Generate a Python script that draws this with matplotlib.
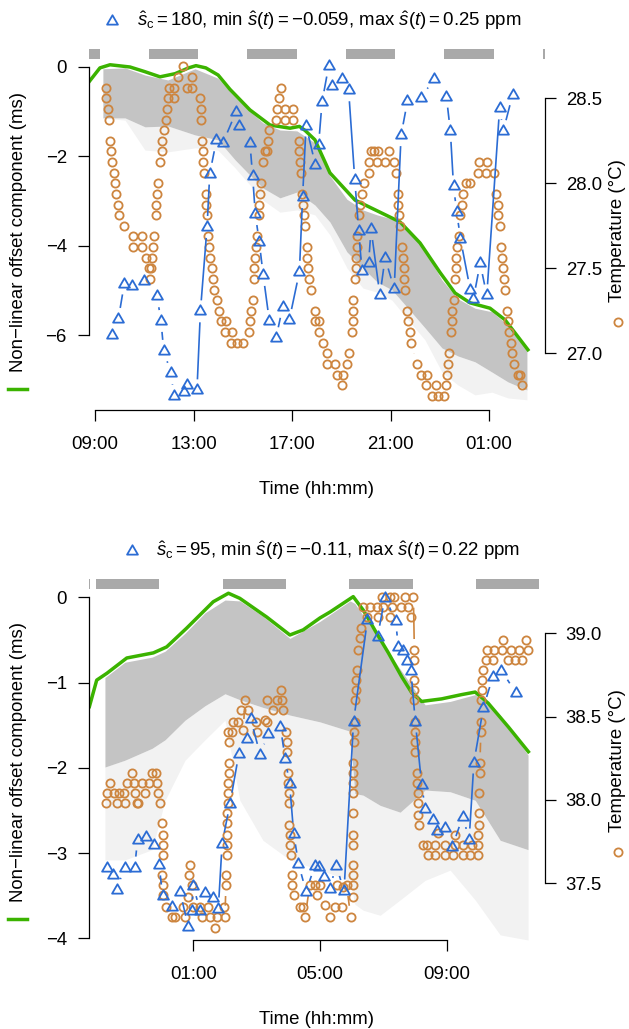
import numpy as np
import matplotlib
matplotlib.use("Agg")
import matplotlib.pyplot as plt
from matplotlib.path import Path
from matplotlib.collections import LineCollection
from matplotlib.lines import Line2D
from matplotlib.ticker import FormatStrFormatter

plt.rcParams["font.family"] = ["Liberation Sans", "DejaVu Sans"]
plt.rcParams["mathtext.fontset"] = "custom"
plt.rcParams["mathtext.rm"] = "Liberation Sans"
plt.rcParams["mathtext.it"] = "Liberation Sans:italic"
plt.rcParams["mathtext.bf"] = "Liberation Sans:bold"

# -------------------------------
# DATA - top panel (time in hours since midnight of day 1)
# -------------------------------
top_xticks = [9, 13, 17, 21, 25]
top_xticklabels = ["09:00", "13:00", "17:00", "21:00", "01:00"]
top_msticks = [0, -2, -4, -6]
top_tempticks = [27.0, 27.5, 28.0, 28.5]
top_bars = [(7.19, 9.19), (11.19, 13.19), (15.19, 17.19), (19.19, 21.19),
            (23.19, 25.19), (27.19, 29.19)]

top_green_t = [8.76, 9.20, 9.61, 10.42, 11.00, 11.64, 12.25, 12.80, 13.10, 13.50,
               14.00, 14.48, 15.29, 16.11, 16.92, 17.30, 17.53, 17.93, 18.54, 19.56,
               20.57, 21.39, 22.20, 23.01, 23.62, 24.23, 25.04, 25.65, 26.58]
top_green = [-0.33, -0.02, 0.05, 0.0, -0.10, -0.22, -0.15, -0.02, 0.03, -0.02,
             -0.18, -0.50, -0.96, -1.30, -1.37, -1.33, -1.42, -1.63, -2.37, -2.98,
             -3.25, -3.47, -3.94, -4.60, -5.06, -5.28, -5.40, -5.66, -6.33]

top_band_t = [9.32, 10.22, 11.03, 11.96, 13.06, 13.99, 14.69, 15.29, 15.82, 16.51,
              17.20, 17.93, 18.54, 19.23, 19.88, 20.45, 21.06, 21.71, 22.40, 23.09,
              23.74, 24.43, 25.12, 25.77, 26.54]
top_band_upper = [-0.04, -0.02, -0.18, -0.29, -0.04, -0.25, -0.67, -0.99, -1.25, -1.41,
                  -1.43, -1.70, -2.44, -2.96, -3.20, -3.31, -3.40, -3.63, -4.12, -4.77,
                  -5.19, -5.40, -5.48, -5.78, -6.34]
top_band_lower = [-1.14, -1.14, -1.34, -1.32, -1.52, -1.63, -2.08, -2.42, -2.71, -2.93,
                  -2.80, -3.09, -3.47, -4.14, -4.50, -4.81, -4.99, -5.40, -5.84, -6.29,
                  -6.47, -6.60, -6.83, -7.05, -7.23]
top_band_sparse = [-1.14, -1.19, -1.86, -1.90, -1.81, -1.86, -2.26, -2.64, -2.98, -3.25,
                   -3.20, -3.31, -3.76, -4.50, -4.95, -5.04, -5.22, -5.66, -6.11, -6.83,
                   -7.12, -7.34, -7.28, -7.41, -7.45]

top_temp_t = [9.43, 9.46, 9.52, 9.57, 9.62, 9.65, 9.70, 9.76, 9.81, 9.86, 9.92, 9.97,
              10.19, 10.54, 10.54, 10.90, 10.90, 11.08, 11.19, 11.25, 11.27, 11.30,
              11.36, 11.38, 11.46, 11.49, 11.52, 11.57, 11.63, 11.71, 11.73, 11.79,
              11.87, 11.92, 11.95, 12.01, 12.22, 12.22, 12.38, 12.57, 12.74, 12.93,
              12.95, 13.28, 13.30, 13.30, 13.33, 13.39, 13.39, 13.44, 13.50, 13.52,
              13.55, 13.60, 13.63, 13.68, 13.74, 13.79, 13.84, 13.95, 14.04, 14.12,
              14.28, 14.31, 14.52, 14.55, 14.75, 15.00, 15.27, 15.29, 15.35, 15.40,
              15.46, 15.46, 15.51, 15.54, 15.57, 15.65, 15.67, 15.70, 15.73, 15.83,
              15.92, 16.00, 16.03, 16.08, 16.35, 16.38, 16.48, 16.54, 16.70, 16.70,
              17.03, 17.03, 17.27, 17.30, 17.32, 17.35, 17.41, 17.43, 17.49, 17.52,
              17.60, 17.62, 17.65, 17.70, 17.76, 17.95, 17.95, 18.08, 18.11, 18.25,
              18.41, 18.41, 18.76, 18.82, 19.03, 19.08, 19.25, 19.33, 19.44, 19.46,
              19.46, 19.49, 19.55, 19.60, 19.60, 19.63, 19.65, 19.73, 19.76, 19.84,
              19.92, 20.11, 20.14, 20.22, 20.33, 20.44, 20.48, 20.78, 20.94, 21.13,
              21.24, 21.29, 21.32, 21.35, 21.40, 21.48, 21.51, 21.54, 21.56, 21.59,
              21.67, 21.72, 21.78, 21.83, 22.08, 22.24, 22.45, 22.48, 22.70, 22.86,
              22.94, 23.18, 23.27, 23.29, 23.32, 23.38, 23.46, 23.49, 23.51, 23.57,
              23.62, 23.65, 23.67, 23.70, 23.78, 23.83, 23.92, 23.94, 24.05, 24.24,
              24.54, 24.59, 24.89, 24.92, 25.22, 25.27, 25.35, 25.38, 25.43, 25.49,
              25.52, 25.57, 25.60, 25.65, 25.73, 25.78, 25.81, 25.89, 25.92, 26.03,
              26.17, 26.27, 26.33]
top_temp = [28.5625, 28.5, 28.4375, 28.375, 28.25, 28.1875, 28.125, 28.0625, 28.0, 27.9375,
            27.875, 27.8125, 27.75, 27.6875, 27.625, 27.6875, 27.625, 27.5625, 27.5, 27.4375,
            27.5, 27.5625, 27.625, 27.6875, 27.8125, 27.875, 27.9375, 28.0, 28.125, 28.1875,
            28.25, 28.3125, 28.375, 28.4375, 28.5, 28.5625, 28.5625, 28.5, 28.625, 28.6875,
            28.5625, 28.625, 28.5625, 28.5, 28.4375, 28.375, 28.25, 28.1875, 28.125, 28.0625,
            27.9375, 27.875, 27.8125, 27.6875, 27.625, 27.5625, 27.5, 27.4375, 27.375, 27.3125,
            27.25, 27.1875, 27.125, 27.1875, 27.0625, 27.125, 27.0625, 27.0625, 27.125, 27.1875,
            27.25, 27.3125, 27.4375, 27.5, 27.5625, 27.625, 27.6875, 27.8125, 27.875, 27.9375,
            28.0, 28.125, 28.1875, 28.1875, 28.25, 28.3125, 28.375, 28.4375, 28.5, 28.5625,
            28.4375, 28.375, 28.4375, 28.375, 28.25, 28.1875, 28.125, 28.0625, 27.9375, 27.875,
            27.8125, 27.75, 27.625, 27.5625, 27.5, 27.4375, 27.375, 27.25, 27.1875, 27.1875,
            27.125, 27.0625, 27.0, 26.9375, 26.9375, 26.875, 26.8125, 26.875, 26.9375, 27.0,
            27.125, 27.1875, 27.25, 27.3125, 27.4375, 27.5, 27.5625, 27.625, 27.6875, 27.8125,
            27.875, 27.9375, 28.0, 28.0625, 28.125, 28.1875, 28.1875, 28.125, 28.1875, 28.125,
            28.1875, 28.125, 28.0625, 27.9375, 27.875, 27.8125, 27.75, 27.625, 27.5625, 27.5,
            27.4375, 27.375, 27.25, 27.1875, 27.125, 27.0625, 26.9375, 26.875, 26.8125, 26.875,
            26.75, 26.8125, 26.75, 26.75, 26.8125, 26.875, 26.9375, 27.0, 27.125, 27.1875,
            27.25, 27.3125, 27.4375, 27.5, 27.5625, 27.625, 27.6875, 27.8125, 27.875, 27.9375,
            28.0, 28.0, 28.0625, 28.125, 28.0625, 28.125, 28.0625, 27.9375, 27.875, 27.8125,
            27.75, 27.625, 27.5625, 27.5, 27.4375, 27.375, 27.25, 27.1875, 27.125, 27.0625,
            27.0, 26.9375, 26.875, 26.875, 26.8125]

top_s_t = [9.68, 9.95, 10.19, 10.49, 11.00, 11.52, 11.68, 11.79, 12.09, 12.20,
           12.60, 12.74, 13.14, 13.28, 13.55, 13.66, 13.93, 14.20, 14.73, 14.86,
           15.29, 15.40, 15.51, 15.67, 15.83, 16.08, 16.35, 16.62, 16.89, 17.30,
           17.43, 17.57, 17.95, 18.08, 18.22, 18.49, 18.62, 19.03, 19.30, 19.55,
           19.71, 19.84, 20.11, 20.21, 20.57, 20.78, 21.15, 21.43, 21.69, 22.24,
           22.78, 23.27, 23.43, 23.56, 23.69, 23.84, 24.24, 24.37, 24.64, 24.91,
           25.43, 25.58, 25.96]
top_s = [-0.002, 0.013, 0.046, 0.044, 0.048, 0.034, 0.011, -0.017, -0.038, -0.059,
         -0.056, -0.049, -0.054, 0.020, 0.099, 0.149, 0.180, 0.178, 0.207, 0.194,
         0.178, 0.147, 0.111, 0.085, 0.054, 0.011, -0.005, 0.024, 0.012, 0.057,
         0.127, 0.194, 0.157, 0.176, 0.216, 0.250, 0.231, 0.238, 0.227, 0.143,
         0.095, 0.058, 0.065, 0.097, 0.035, 0.070, 0.041, 0.185, 0.217, 0.220,
         0.238, 0.221, 0.189, 0.137, 0.113, 0.088, 0.040, 0.032, 0.065, 0.035,
         0.210, 0.189, 0.223]
top_title = (r"$\hat{s}_{\mathrm{c}} = 180$, min $\hat{s}(t) = -0.059$, "
             r"max $\hat{s}(t) = 0.25$ ppm")

# -------------------------------
# DATA - bottom panel
# -------------------------------
bot_xticks = [25, 29, 33]
bot_xticklabels = ["01:00", "05:00", "09:00"]
bot_msticks = [0, -1, -2, -3, -4]
bot_tempticks = [37.5, 38.0, 38.5, 39.0]
bot_bars = [(21.50, 21.73), (21.93, 23.93), (25.93, 27.93), (29.93, 31.93), (33.93, 35.93)]

bot_green_t = [21.72, 21.95, 22.27, 22.90, 23.74, 24.16, 24.79, 25.63, 26.11, 26.47,
               27.32, 28.05, 28.47, 29.00, 29.32, 30.05, 30.37, 30.79, 31.16, 31.58,
               31.90, 32.21, 32.84, 33.47, 33.90, 34.31, 34.95, 35.58]
bot_green = [-1.28, -0.97, -0.89, -0.71, -0.65, -0.58, -0.36, -0.05, 0.05, -0.01,
             -0.23, -0.44, -0.38, -0.24, -0.17, 0.01, -0.15, -0.42, -0.65, -0.93,
             -1.12, -1.22, -1.19, -1.14, -1.11, -1.24, -1.52, -1.81]

bot_band_t = [22.21, 22.84, 23.70, 24.11, 24.74, 25.37, 26.00, 26.47, 27.20, 28.05,
              29.00, 29.95, 30.10, 30.36, 30.90, 31.53, 32.32, 33.11, 33.90, 34.69, 35.57]
bot_band_upper = [-0.94, -0.76, -0.70, -0.63, -0.42, -0.18, -0.03, -0.04, -0.22, -0.48,
                  -0.28, -0.04, -0.07, -0.21, -0.50, -0.84, -1.26, -1.22, -1.14, -1.38, -1.85]
bot_band_lower = [-1.99, -1.91, -1.77, -1.67, -1.44, -1.27, -1.13, -1.20, -1.29, -1.38,
                  -1.46, -1.57, -2.30, -2.32, -2.44, -2.52, -2.26, -2.28, -2.38, -2.85, -2.96]
bot_band_sparse = [-3.08, -3.08, -2.96, -2.38, -1.91, -1.67, -1.44, -2.38, -2.85, -3.08,
                   -3.20, -3.32, -3.60, -3.67, -3.73, -3.55, -3.32, -3.20, -3.55, -3.96, -4.02]

bot_temp_t = [22.23, 22.28, 22.38, 22.51, 22.59, 22.66, 22.82, 22.84, 22.91, 23.05,
              23.12, 23.16, 23.21, 23.26, 23.37, 23.47, 23.60, 23.69, 23.81, 23.85,
              23.89, 23.96, 24.00, 24.03, 24.03, 24.05, 24.00, 24.05, 24.05, 24.13,
              24.32, 24.42, 24.67, 24.74, 24.84, 24.87, 24.90, 24.95, 25.00, 25.21,
              25.27, 25.47, 25.53, 25.69, 25.74, 25.97, 26.00, 26.03, 26.03, 26.05,
              26.05, 26.05, 26.05, 26.07, 26.11, 26.09, 26.11, 26.14, 26.14, 26.12,
              26.11, 26.21, 26.26, 26.42, 26.50, 26.58, 26.63, 26.74, 26.98, 27.02,
              27.26, 27.32, 27.34, 27.53, 27.65, 27.76, 27.79, 27.84, 27.93, 27.95,
              27.97, 28.00, 28.00, 28.03, 28.03, 28.03, 28.05, 28.05, 28.08, 28.11,
              28.11, 28.18, 28.37, 28.47, 28.53, 28.68, 28.84, 28.90, 29.00, 29.16,
              29.32, 29.47, 29.53, 29.69, 29.74, 29.84, 29.97, 30.03, 30.03, 30.03,
              30.03, 30.03, 30.03, 30.05, 30.05, 30.05, 30.05, 30.05, 30.07, 30.07,
              30.11, 30.12, 30.14, 30.14, 30.16, 30.21, 30.26, 30.30, 30.37, 30.48,
              30.58, 30.79, 30.82, 30.95, 31.00, 31.21, 31.21, 31.26, 31.35, 31.56,
              31.68, 31.79, 31.87, 31.95, 31.98, 31.98, 31.98, 31.98, 31.98, 32.00,
              32.00, 32.00, 32.00, 32.05, 32.05, 32.09, 32.09, 32.10, 32.14, 32.26,
              32.37, 32.42, 32.63, 32.63, 32.74, 32.95, 32.95, 33.21, 33.26, 33.26,
              33.53, 33.53, 33.74, 33.79, 34.00, 34.00, 34.00, 34.02, 34.02, 34.02,
              34.05, 34.05, 34.08, 34.08, 34.08, 34.13, 34.13, 34.16, 34.23, 34.26,
              34.47, 34.50, 34.76, 34.79, 34.95, 35.03, 35.16, 35.28, 35.39, 35.50,
              35.56]
bot_temp = [37.98, 38.04, 38.10, 38.04, 37.98, 38.04, 38.04, 37.98, 38.10, 38.16,
            38.10, 38.04, 37.98, 37.98, 38.10, 38.04, 38.10, 38.16, 38.16, 38.10,
            38.04, 37.98, 37.86, 37.79, 37.73, 37.67, 37.55, 37.49, 37.43, 37.36,
            37.30, 37.30, 37.36, 37.30, 37.42, 37.55, 37.61, 37.49, 37.36, 37.36,
            37.30, 37.36, 37.30, 37.23, 37.30, 37.36, 37.30, 37.49, 37.55, 37.67,
            37.73, 37.79, 37.86, 37.92, 37.98, 38.04, 38.10, 38.16, 38.22, 38.35,
            38.41, 38.41, 38.47, 38.47, 38.54, 38.42, 38.60, 38.54, 38.47, 38.41,
            38.48, 38.47, 38.60, 38.54, 38.60, 38.66, 38.60, 38.54, 38.41, 38.35,
            38.29, 38.16, 38.10, 38.04, 37.98, 37.85, 37.79, 37.73, 37.67, 37.55,
            37.49, 37.43, 37.36, 37.36, 37.30, 37.49, 37.49, 37.43, 37.49, 37.37,
            37.30, 37.36, 37.49, 37.36, 37.48, 37.49, 37.30, 37.42, 37.49, 37.55,
            37.61, 37.73, 37.79, 37.92, 38.04, 38.10, 38.16, 38.22, 38.35, 38.41,
            38.47, 38.60, 38.66, 38.72, 38.78, 38.90, 38.97, 39.03, 39.16, 39.10,
            39.16, 39.16, 39.10, 39.22, 39.16, 39.22, 39.10, 39.16, 39.22, 39.16,
            39.22, 39.16, 39.10, 39.22, 38.90, 38.84, 38.72, 38.66, 38.60, 38.47,
            38.41, 38.35, 38.29, 38.16, 38.10, 38.04, 37.98, 37.91, 37.85, 37.73,
            37.73, 37.67, 37.73, 37.67, 37.80, 37.73, 37.67, 37.67, 37.79, 37.73,
            37.73, 37.67, 37.67, 37.73, 37.67, 37.73, 37.79, 37.85, 37.92, 38.04,
            38.16, 38.22, 38.41, 38.47, 38.60, 38.66, 38.72, 38.78, 38.84, 38.90,
            38.84, 38.90, 38.90, 38.96, 38.84, 38.90, 38.84, 38.90, 38.84, 38.96,
            38.90]

bot_s_t = [22.29, 22.45, 22.58, 22.83, 23.15, 23.24, 23.52, 23.75, 23.92, 24.03,
           24.32, 24.58, 24.84, 24.95, 25.00, 25.21, 25.37, 25.63, 25.79, 25.91,
           26.16, 26.44, 26.70, 26.81, 27.11, 27.37, 27.75, 27.90, 28.04, 28.17,
           28.32, 28.56, 28.84, 28.96, 29.12, 29.31, 29.51, 29.76, 30.06, 30.50,
           30.82, 31.05, 31.39, 31.47, 31.63, 31.74, 31.87, 32.01, 32.21, 32.32,
           32.58, 32.69, 32.96, 33.18, 33.51, 33.71, 33.86, 34.16, 34.46, 34.73,
           35.18]
bot_s = [-0.051, -0.058, -0.073, -0.051, -0.051, -0.023, -0.020, -0.028, -0.048, -0.079,
         -0.090, -0.075, -0.110, -0.094, -0.069, -0.094, -0.076, -0.081, -0.092, -0.027,
         0.013, 0.063, 0.078, 0.098, 0.062, 0.083, 0.090, 0.058, 0.033, -0.017,
         -0.047, -0.075, -0.049, -0.050, -0.060, -0.072, -0.049, -0.074, 0.095, 0.197,
         0.180, 0.219, 0.196, 0.170, 0.166, 0.156, 0.146, 0.095, 0.032, 0.008,
         -0.003, -0.014, -0.011, -0.030, 0.000, -0.023, 0.054, 0.109, 0.140, 0.146,
         0.124]
bot_title = (r"$\hat{s}_{\mathrm{c}} = 95$, min $\hat{s}(t) = -0.11$, "
             r"max $\hat{s}(t) = 0.22$ ppm")

# -------------------------------
# STYLE
# -------------------------------
W, H = 629, 1029
FS = 13.4
GRAY = "#C4C4C4"
BARGRAY = "#A9A9A9"
GREEN = "#3BB300"
ORANGE = "#CD853F"
BLUE = "#2B6CD4"
CIRC_MS, TRI_MS, MEW = 5.9, 9.0, 1.3
TRI = Path([(0, 1.555), (1.347, -0.778), (-1.347, -0.778), (0, 1.555)],
           [Path.MOVETO, Path.LINETO, Path.LINETO, Path.CLOSEPOLY])

fig = plt.figure(figsize=(W / 100, H / 100), dpi=100)


def px_rect(top, bottom):
    return [89 / W, 1 - bottom / H, 456 / W, (bottom - top) / H]


def draw_b(ax, x, y, color, marker, ms, gap=11):
    # R style type="b": segments stop short of the symbols
    pts = ax.transData.transform(np.column_stack([x, y]))
    inv = ax.transData.inverted()
    segs = []
    for p0, p1 in zip(pts[:-1], pts[1:]):
        d = np.hypot(*(p1 - p0))
        if d > 2 * gap:
            f = gap / d
            a = p0 + f * (p1 - p0)
            b = p1 - f * (p1 - p0)
            segs.append(inv.transform(np.array([a, b])))
    ax.add_collection(LineCollection(segs, colors=color, linewidths=1.2))
    ax.plot(x, y, ls="none", marker=marker, ms=ms, mfc="none", mec=color, mew=MEW)


def panel(top_px, xlim, ylim_ms, ylim_t, ylim_s, xticks, xlabels, msticks, tticks,
          band_t, band_up, band_lo, band_sp, green_t, green_v, bars,
          temp_t, temp_v, s_t, s_v):
    ax = fig.add_axes(px_rect(top_px, top_px + 365))
    ax.set_xlim(*xlim)
    ax.set_ylim(*ylim_ms)
    ax.fill_between(band_t, band_sp, band_lo, color=GRAY, alpha=0.22, lw=0)
    ax.fill_between(band_t, band_lo, band_up, color=GRAY, lw=0)
    ax.plot(green_t, green_v, color=GREEN, lw=2.5, solid_joinstyle="round")
    for x0, x1 in bars:
        ax.axvspan(x0, x1, 0.963, 0.99, color=BARGRAY, lw=0)

    for s in ["top", "right"]:
        ax.spines[s].set_visible(False)
    ax.spines["left"].set_bounds(msticks[-1], msticks[0])
    ax.spines["bottom"].set_bounds(xticks[0], xticks[-1])
    ax.set_yticks(msticks)
    ax.set_xticks(xticks)
    ax.set_xticklabels(xlabels)
    ax.tick_params(axis="y", length=7.9, width=0.9, pad=8, labelsize=FS)
    ax.tick_params(axis="x", length=7.9, width=0.9, pad=11, labelsize=FS)
    for s in ["left", "bottom"]:
        ax.spines[s].set_linewidth(0.9)

    ax_t = ax.twinx()
    ax_t.set_ylim(*ylim_t)
    for s in ["top", "left", "bottom"]:
        ax_t.spines[s].set_visible(False)
    ax_t.spines["right"].set_bounds(tticks[0], tticks[-1])
    ax_t.spines["right"].set_linewidth(0.9)
    ax_t.set_yticks(tticks)
    ax_t.yaxis.set_major_formatter(FormatStrFormatter("%.1f"))
    ax_t.tick_params(axis="y", length=7.9, width=0.9, pad=7, labelsize=FS)
    draw_b(ax_t, temp_t, temp_v, ORANGE, "o", CIRC_MS)

    ax_s = ax.twinx()
    ax_s.set_ylim(*ylim_s)
    ax_s.axis("off")
    draw_b(ax_s, s_t, s_v, BLUE, TRI, TRI_MS)
    return ax


panel(45, (8.756, 27.274), (-7.679, 0.4925), (26.6665, 28.8135), (-0.0724, 0.2694),
      top_xticks, top_xticklabels, top_msticks, top_tempticks,
      top_band_t, top_band_upper, top_band_lower, top_band_sparse,
      top_green_t, top_green, top_bars, top_temp_t, top_temp, top_s_t, top_s)

panel(575, (21.707, 36.105), (-4.020, 0.264), (37.160, 39.350), (-0.1235, 0.2415),
      bot_xticks, bot_xticklabels, bot_msticks, bot_tempticks,
      bot_band_t, bot_band_upper, bot_band_lower, bot_band_sparse,
      bot_green_t, bot_green, bot_bars, bot_temp_t, bot_temp, bot_s_t, bot_s)

# -------------------------------
# LABELS, TITLES, LEGEND SYMBOLS
# -------------------------------
for dy, title, tri_x, txt_x in [(0, top_title, 112.3, 136.7), (530, bot_title, 131.7, 156.0)]:
    fig.text(19 / W, 1 - (232 + dy) / H, "Non\u2212linear offset component (ms)",
             rotation=90, ha="center", va="center", fontsize=FS)
    fig.add_artist(Line2D([8.3 / W, 26.7 / W], [1 - (389 + dy) / H] * 2,
                          color=GREEN, lw=2.5))
    fig.text(617.5 / W, 1 - (230.8 + dy) / H, "Temperature (\u00b0C)",
             rotation=90, ha="center", va="center", fontsize=FS)
    fig.add_artist(Line2D([618.3 / W], [1 - (321.7 + dy) / H], ls="none", marker="o",
                          ms=CIRC_MS, mfc="none", mec=ORANGE, mew=MEW))
    fig.text(317 / W, 1 - (490 + dy) / H, "Time (hh:mm)", ha="center", va="center",
             fontsize=FS)
    fig.text(txt_x / W, 1 - (21 + dy) / H, title, ha="left", va="center", fontsize=FS)
    fig.add_artist(Line2D([tri_x / W], [1 - (21 + dy) / H], ls="none", marker=TRI,
                          ms=TRI_MS, mfc="none", mec=BLUE, mew=MEW))

fig.savefig("out.png", dpi=100)
